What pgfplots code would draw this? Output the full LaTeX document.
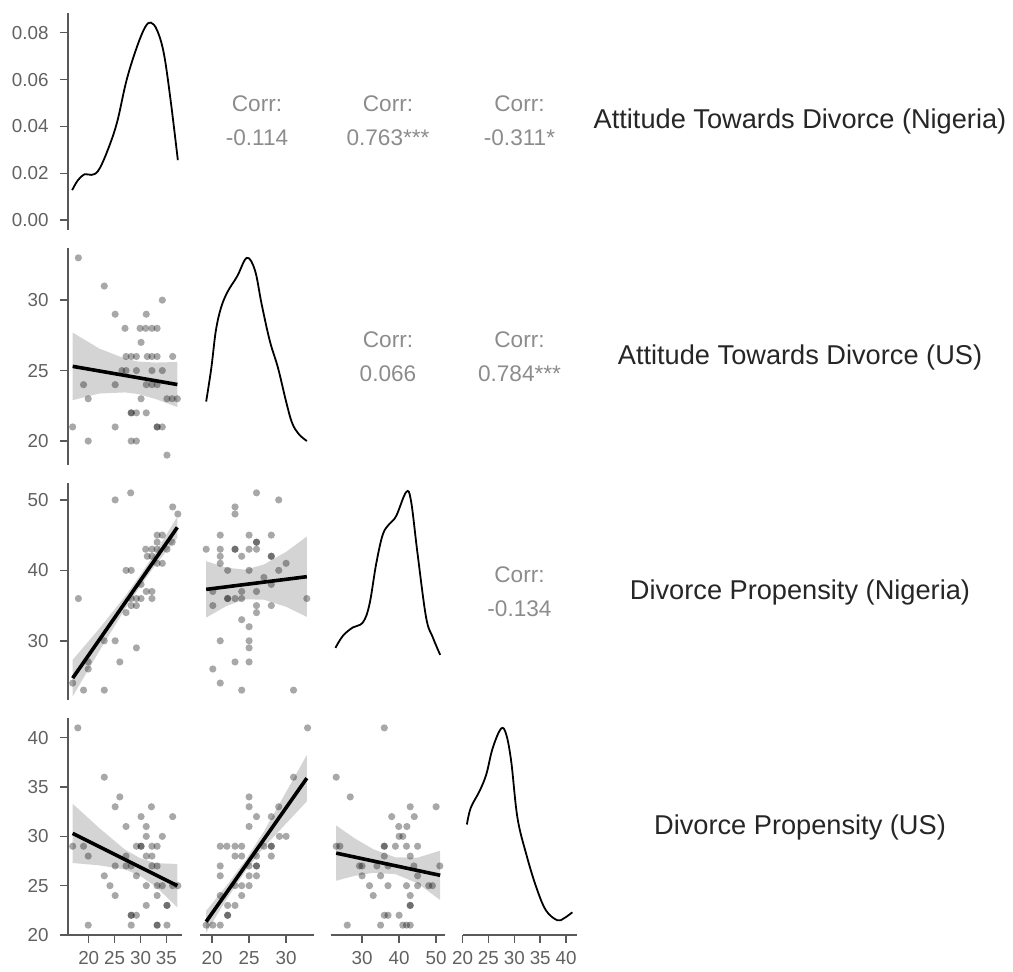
\documentclass[border=0pt]{standalone}
\usepackage{fontspec}
\setmainfont{Liberation Sans}
\usepackage{pgfplots}
\pgfplotsset{compat=1.18}
\pgfplotsset{
  panel/.style={scale only axis, width=114pt, height=217pt, anchor=south west,
    axis x line*=bottom, axis y line*=left,
    axis line style={black!65, line width=1.5pt},
    every tick/.style={black!65, line width=1.5pt},
    major tick length=8pt, tick align=outside,
    ticklabel style={font=\fontsize{18.8}{18.8}\selectfont, text=black!62},
    xticklabel style={yshift=-5pt},
    yticklabel style={xshift=-8pt},
    /pgf/number format/assume math mode=true,
    clip=false},
  pts/.style={only marks, mark=*, mark size=3.6pt,
    mark options={draw=black, draw opacity=0, fill=black, fill opacity=0.34}},
  band/.style={draw=none, fill=black, fill opacity=0.17},
  reg/.style={black, line width=3.6pt},
  dens/.style={black, line width=1.8pt, smooth, tension=0.6},
  v1/.style={xmin=16, xmax=38},
  v2/.style={xmin=18.3, xmax=33.7},
  v3/.style={xmin=21.6, xmax=52.4},
  v4/.style={xmin=20, xmax=42},
  h2/.style={ymin=18.3, ymax=33.7},
  h3/.style={ymin=21.6, ymax=52.4},
  h4/.style={ymin=20, ymax=42},
}
\begin{document}
\begin{tikzpicture}
\useasboundingbox (0pt,0pt) rectangle (1013pt,972pt);

% ---------- Row 1 ----------
\begin{axis}[panel, v1, at={(68pt,742pt)}, ymin=-0.0042, ymax=0.0884,
  hide x axis, ytick={0,0.02,0.04,0.06,0.08}, scaled y ticks=false,
  yticklabel style={/pgf/number format/.cd, fixed, fixed zerofill, precision=2}]
\addplot[dens] coordinates {(16.8,0.0128) (17.9,0.017) (19.2,0.0196) (20.5,0.0193) (21.8,0.021) (23.4,0.0284) (25.4,0.0412) (27.3,0.0597) (29.3,0.0739) (30.9,0.0824) (32.0,0.0843) (33.2,0.081) (34.5,0.0711) (35.8,0.0512) (37.2,0.0256)};
\end{axis}

% ---------- Row 2 ----------
\begin{axis}[panel, v1, h2, at={(68pt,507pt)}, hide x axis, ytick={20,25,30}]
\addplot[pts] coordinates {(18,33) (23,31) (34.2,30) (25.1,29) (31.1,29) (27,28) (29.9,28) (31,28) (32.2,28) (33.2,28) (30.1,27) (27.2,26) (28.2,26) (29.2,26) (31.3,26) (32.2,26) (33.2,26) (36.2,26) (26.4,25) (27.2,25) (29.2,25) (32.2,25) (34.2,25) (19,24) (25.1,24) (31.1,24) (32.2,24) (33.2,24) (19.9,23) (30.1,23) (35.1,23) (36.1,23) (37.1,23) (28.2,22) (28.2,22) (29.2,22) (31.1,22) (16.9,21) (25.1,21) (33.2,21) (33.2,21) (34.2,21) (19.9,20) (28.2,20) (29.2,20) (35.1,19)};
\addplot[band] coordinates {(16.9,27.7) (22,26.57) (27,25.85) (29.5,25.64) (33,25.57) (37.1,25.61) (37.1,22.41) (33,22.97) (29.5,23.34) (27,23.45) (22,23.37) (16.9,22.9)} -- cycle;
\addplot[reg] coordinates {(16.9,25.3) (37.1,24.01)};
\end{axis}
\begin{axis}[panel, v2, h2, at={(199.5pt,507pt)}, hide x axis, hide y axis]
\addplot[dens] coordinates {(19.2,22.8) (19.9,25.2) (20.5,27.8) (21.2,29.45) (22.1,30.6) (23.4,31.7) (24.7,33.0) (25.8,32.1) (26.7,29.7) (27.8,27.1) (28.9,25.2) (30.0,22.8) (30.8,21.3) (31.7,20.5) (32.8,20.0)};
\end{axis}

% ---------- Row 3 ----------
\begin{axis}[panel, v1, h3, at={(68pt,272pt)}, hide x axis, ytick={30,40,50}]
\addplot[pts] coordinates {(25.1,50) (28.1,51) (36.2,49) (37.2,48) (33.2,45) (34.2,45) (33.2,44) (36.1,44) (31,43) (32.2,43) (33.2,43) (35.1,43) (31.3,42) (32.2,42) (33.2,41) (34.2,41) (27.2,40) (28.2,40) (30.1,38) (31.1,37) (32.2,37) (28.2,36) (29.2,36) (30.1,36) (32.2,36) (28.2,35) (29.2,35) (27.2,34) (18,36) (23,30) (25.1,30) (29.2,29) (26,27) (19.9,27) (19.9,26) (16.9,24) (19,23) (23,23)};
\addplot[band] coordinates {(16.9,27.3) (22,31.7) (27,36.3) (30,39.4) (33,42.7) (37.1,47.6) (37.1,44.6) (33,40.9) (30,37.8) (27,34.5) (22,28.5) (16.9,22.1)} -- cycle;
\addplot[reg] coordinates {(16.9,24.7) (37.1,46.1)};
\end{axis}
\begin{axis}[panel, v2, h3, at={(199.5pt,272pt)}, hide x axis, hide y axis]
\addplot[pts] coordinates {(26,51) (29,50) (23.1,49) (23.1,48) (21.1,45) (25,45) (28,45) (26,44) (26,44) (19.2,43) (21.1,43) (23.1,43) (23.1,43) (25,43) (26,43) (21.1,42) (24,42) (28,42) (28,42) (21.1,41) (30,41) (22.1,40) (25,40) (29,40) (27,39) (28,38) (20.1,37) (24,37) (26,37) (22.1,36) (22.1,36) (23.1,36) (24,36) (32.8,36) (20.1,35) (26,35) (28,35) (26,34) (24,33) (25,32) (21.1,30) (25,30) (25,29) (23.1,27) (25,27) (20.1,26) (21.1,24) (24,23) (31,23)};
\addplot[band] coordinates {(19.2,41.3) (22,40.37) (24.5,40.1) (27,40.83) (30,42.63) (32.8,44.8) (32.8,33.4) (30,34.83) (27,35.83) (24.5,35.9) (22,34.97) (19.2,33.3)} -- cycle;
\addplot[reg] coordinates {(19.2,37.3) (32.8,39.1)};
\end{axis}
\begin{axis}[panel, v3, h3, at={(331pt,272pt)}, hide x axis, hide y axis]
\addplot[dens] coordinates {(22.8,29.0) (24.8,30.7) (27.5,31.9) (30.2,32.6) (32.0,35.2) (33.8,40.9) (35.6,45.1) (37.4,46.6) (39.2,47.7) (41.9,51.1) (43.2,49.9) (45.0,42.3) (47.3,33.3) (49.1,30.5) (51.1,28.0)};
\end{axis}

% ---------- Row 4 ----------
\begin{axis}[panel, v1, h4, at={(68pt,37pt)}, xtick={20,25,30,35}, ytick={20,25,30,35,40}]
\addplot[pts] coordinates {(17.9,41) (23,36) (26,34) (25.1,33) (32.1,33) (27.2,31) (31.1,31) (30.1,32) (36.2,32) (34.2,30) (31.1,30) (16.9,29) (19,29) (29.2,29) (30.1,29) (30.1,29) (32.2,29) (33.2,29) (19.9,28) (27.2,28) (31.1,28) (32.2,28) (25.1,27) (27.2,27) (28.2,27) (32.2,27) (33.2,27) (23,26) (29.2,26) (24.1,25) (31.1,25) (33.2,25) (34.2,25) (36.2,25) (37.2,25) (25.1,24) (33.2,24) (31.1,23) (35.1,23) (35.1,23) (28.2,22) (28.2,22) (29.2,22) (19.9,21) (28.2,21) (33.2,21) (33.2,21) (35.1,21)};
\addplot[band] coordinates {(16.9,33.3) (22,30.86) (27,28.65) (30,27.77) (33,27.28) (37.1,27.2) (37.1,22.8) (33,24.88) (30,25.97) (27,26.65) (22,27.06) (16.9,27.3)} -- cycle;
\addplot[reg] coordinates {(16.9,30.3) (37.1,25.0)};
\end{axis}
\begin{axis}[panel, v2, h4, at={(199.5pt,37pt)}, hide y axis, xtick={20,25,30}]
\addplot[pts] coordinates {(32.9,41) (31,36) (29,33) (25,34) (25,33) (26,32) (28,32) (25,31) (29.1,30) (30,30) (21.1,29) (22,29) (23.1,29) (24,29) (27,29) (28,29) (28,29) (23.1,28) (24,28) (26,28) (28,28) (21.1,27) (25,27) (26,27) (26,27) (21.1,26) (25,26) (26,26) (23.1,25) (24,25) (25,25) (21.1,24) (24,24) (22.1,23) (23.1,23) (22.1,22) (22.1,22) (19.2,21) (20.1,21) (21.1,21)};
\addplot[band] coordinates {(19.2,22.45) (22,25.05) (24.5,27.57) (27,30.5) (30,34.5) (32.8,38.25) (32.8,33.55) (30,31.3) (27,28.9) (24.5,26.47) (22,23.65) (19.2,20.25)} -- cycle;
\addplot[reg] coordinates {(19.2,21.35) (32.8,35.9)};
\end{axis}
\begin{axis}[panel, v3, h4, at={(331pt,37pt)}, hide y axis, xtick={30,40,50}]
\addplot[pts] coordinates {(36,41) (23,36) (26.8,34) (43,33) (50,33) (38,32) (44.1,32) (39.9,31) (42.1,31) (40,30) (41,30) (23,29) (24,29) (36,29) (36,29) (39,29) (42,29) (45,29) (36,28) (43,28) (29.3,27) (30,27) (34,27) (37,27) (44,27) (51,27) (30,26) (35,26) (45,26) (32,25) (37,25) (42,25) (45,25) (48,25) (49,25) (33,24) (43,24) (43,23) (43,23) (36,22) (37,22) (40,22) (26,21) (35,21) (41,21) (42,21) (43,21)};
\addplot[band] coordinates {(23,31.1) (28,29.8) (33,28.7) (39,27.87) (45,27.84) (51.1,28.55) (51.1,23.55) (45,25.24) (39,26.17) (33,26.3) (28,26.0) (23,25.5)} -- cycle;
\addplot[reg] coordinates {(23,28.3) (51.1,26.05)};
\end{axis}
\begin{axis}[panel, v4, h4, at={(462.5pt,37pt)}, hide y axis, xtick={20,25,30,35,40}]
\addplot[dens] coordinates {(20.85,31.2) (21.6,32.9) (23.3,34.6) (24.6,36.3) (25.8,38.9) (27.4,40.9) (28.4,40.4) (29.4,37.6) (30.6,31.9) (32.3,28.2) (34.2,24.9) (36.1,22.5) (38.3,21.5) (39.6,21.7) (41.2,22.3)};
\end{axis}

% ---------- Correlation texts ----------
\begin{scope}[every node/.style={font=\fontsize{22.6}{34}\selectfont, text=black!45, align=center}]
\node at (257pt,851pt) {Corr:\\-0.114};
\node at (388pt,851pt) {Corr:\\0.763***};
\node at (519.5pt,851pt) {Corr:\\-0.311*};
\node at (388pt,615.5pt) {Corr:\\0.066};
\node at (519.5pt,615.5pt) {Corr:\\0.784***};
\node at (519.5pt,380.5pt) {Corr:\\-0.134};
\end{scope}

% ---------- Variable labels ----------
\begin{scope}[every node/.style={font=\fontsize{27.2}{30}\selectfont, text=black!85}]
\node at (800pt,851pt) {Attitude Towards Divorce (Nigeria)};
\node at (800pt,615pt) {Attitude Towards Divorce (US)};
\node at (800pt,380pt) {Divorce Propensity (Nigeria)};
\node at (800pt,145pt) {Divorce Propensity (US)};
\end{scope}
\end{tikzpicture}
\end{document}
